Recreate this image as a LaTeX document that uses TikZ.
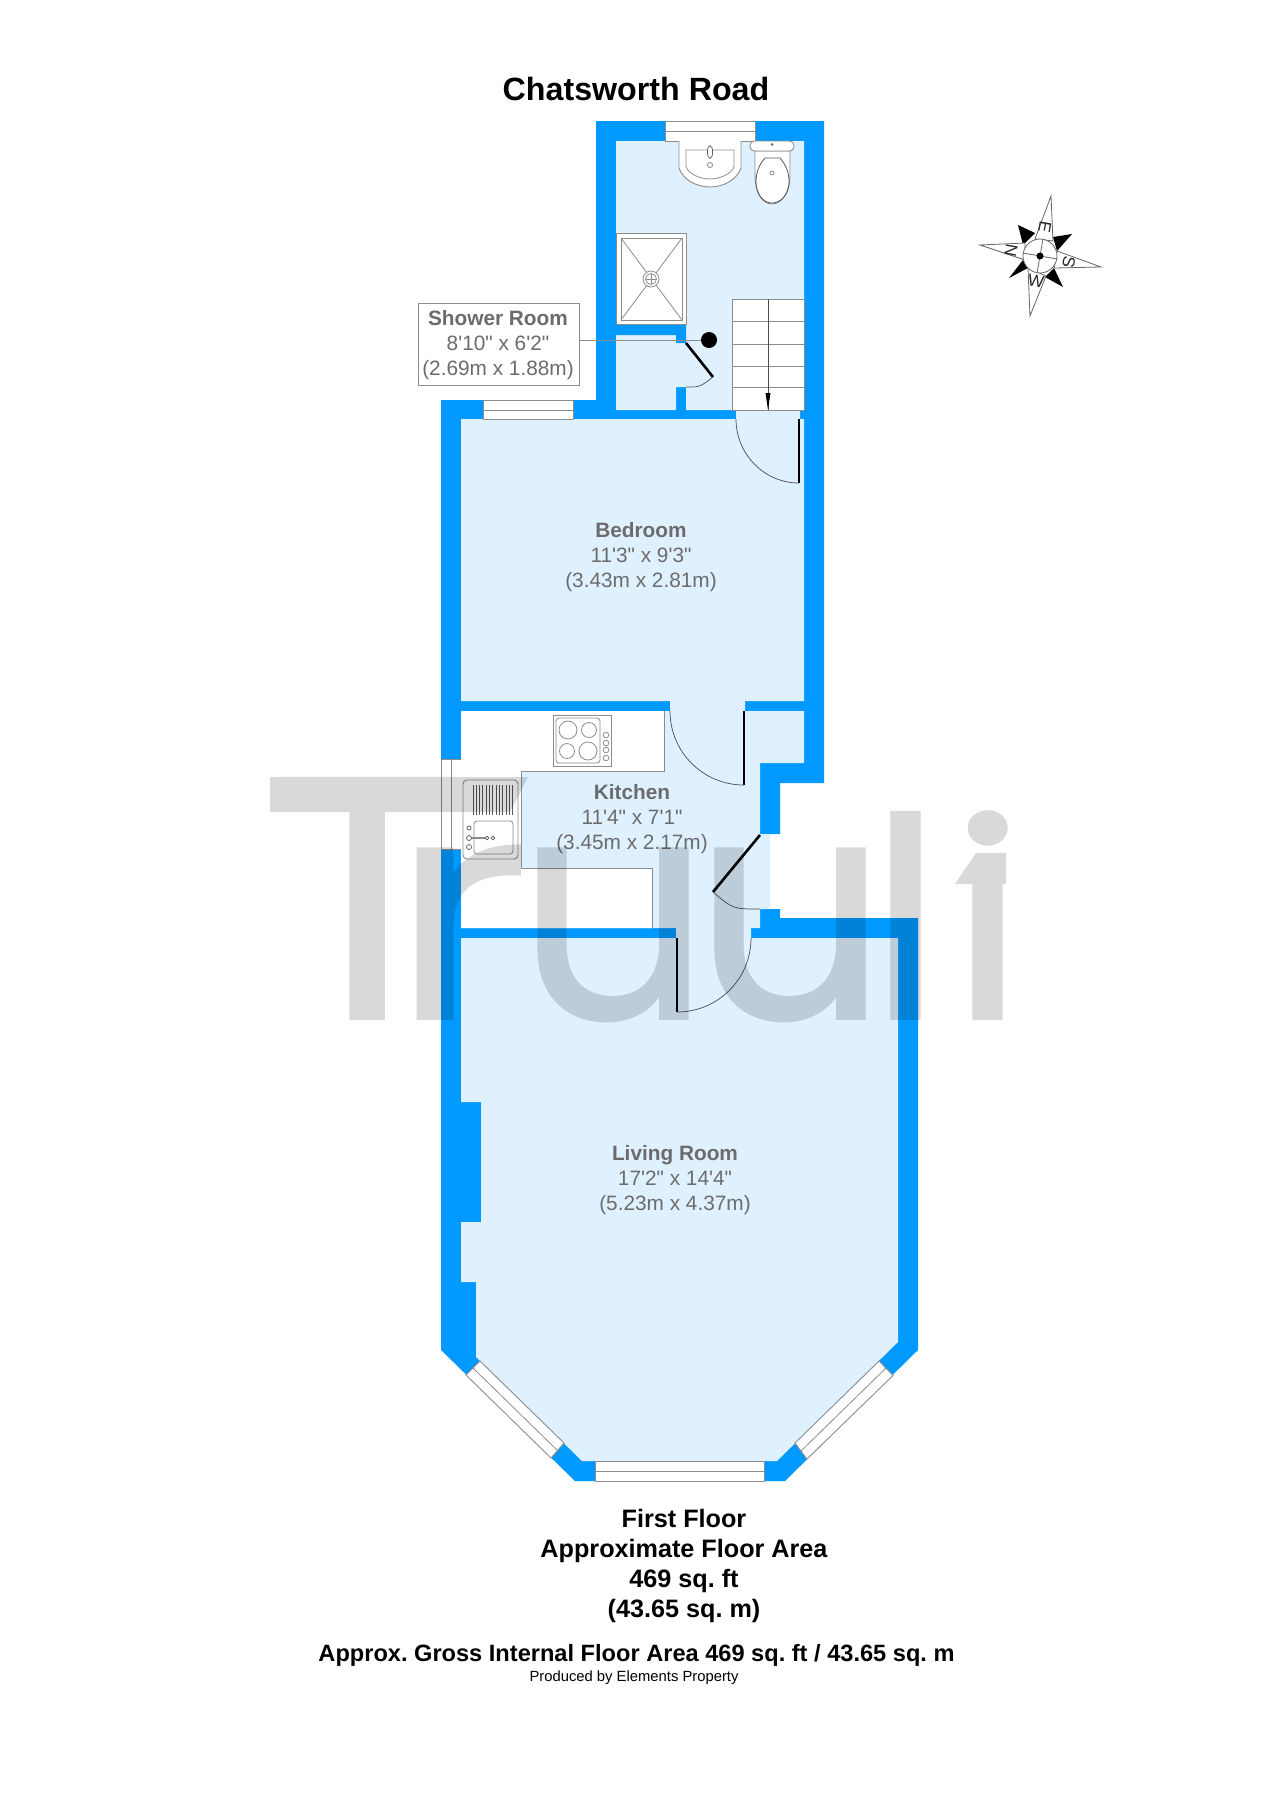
\documentclass[tikz,border=0pt]{standalone}
\usepackage{fontspec}
\usepackage{graphicx}
\setmainfont{Liberation Sans}[Ligatures=TeXOff]
\newfontfamily\wmfont{Poppins}[FakeBold=.6]
\AtBeginDocument{\frenchspacing}
\definecolor{wallblue}{HTML}{0099FF}
\definecolor{roomblue}{HTML}{DFF0FF}
\definecolor{linegrey}{HTML}{8C8C8C}
\definecolor{labelgrey}{HTML}{6C6C6C}
\tikzset{
  wall/.style={fill=wallblue,draw=none},
  room/.style={fill=roomblue,draw=none},
  fixture/.style={fill=white,draw=linegrey,line width=.45pt},
  thin line/.style={draw=linegrey,line width=.4pt},
  fineblack/.style={draw=black!65,line width=.35pt},
  windowpane/.style={fill=white,draw=linegrey,line width=.45pt},
  leaf/.style={draw=black,line width=1.3pt},
  swing/.style={draw=black!70,line width=.35pt},
  roomlabel/.style={align=center,text=labelgrey,inner sep=0pt,font=\fontsize{10.4}{12.6}\selectfont},
  heading/.style={align=center,text=black,inner sep=0pt,font=\bfseries\fontsize{12.6}{15.1}\selectfont},
  compassline/.style={draw=black!60,line width=.4pt,fill=white},
  compassletter/.style={inner sep=0pt,font=\fontsize{8.5}{10}\selectfont,text=black!85},
}
\begin{document}
\begin{tikzpicture}[x=.5pt,y=-.5pt]
\useasboundingbox (0,0) rectangle (1272,1800);
\fill[white] (0,0) rectangle (1272,1800);
% walls (outer shell)
\path[wall] (596,121)--(824,121)--(824,783)--(780,783)--(780,834)--(760,834)--(760,909)--(780,909)--(780,918)--(918,918)--(918,1350)--(785,1481)--(575,1481)--(441,1350)--(441,400)--(596,400)--cycle;
% rooms
\path[room] (616,141)--(804,141)--(804,410)--(686,410)--(686,387)--(676,387)--(676,410)--(616,410)--cycle;
\path[room] (461,419)--(736,419)--(736,410)--(800,410)--(800,419)--(804,419)--(804,701)--(745,701)--(745,711)--(804,711)--(804,763)--(760,763)--(760,834)--(770,834)--(770,909)--(760,909)--(760,928)--(751,928)--(751,938)--(898,938)--(898,1342)--(777,1461)--(582,1461)--(476,1357)--(476,1282)--(461,1282)--(461,1222)--(481,1222)--(481,1102)--(461,1102)--(461,938)--(676,938)--(676,928)--(461,928)--(461,711)--(670,711)--(670,701)--(461,701)--cycle;
\path[wall] (616,324)--(686,324)--(686,343)--(676,343)--(676,335)--(616,335)--cycle;
% windows
\path[windowpane] (665,121) rectangle (755,141);
\draw[thin line] (665,131)--(755,131);
\path[windowpane] (483,400) rectangle (573,419);
\draw[thin line] (483,410)--(573,410);
\path[windowpane] (441,759) rectangle (461,849);
\draw[thin line] (451,759)--(451,849);
\path[windowpane] (595,1461) rectangle (764,1481);
\draw[thin line] (595,1471)--(764,1471);
\path[windowpane] (480,1361)--(564,1443)--(551,1458)--(466,1375)--cycle;
\draw[thin line] (473,1368)--(557.5,1450.5);
\path[windowpane] (879,1361)--(795,1443)--(807,1459)--(893,1375.5)--cycle;
\draw[thin line] (886,1368)--(801,1451);
% kitchen units
\path[fill=white] (461,711)--(664,711)--(664,771)--(521,771)--(521,868)--(652,868)--(652,928)--(461,928)--cycle;
\draw[thin line] (664,711)--(664,771)--(521,771)--(521,868)--(652,868)--(652,928);
% hob
\path[fixture] (553,715) rectangle (611,766);
\draw[thin line,rounded corners=1.5pt] (556,718) rectangle (600,763);
\foreach \cx/\cy/\r in {568/730/9,589/730/7.5,567/751/7.5,588/751/9,606/735/2.8,606/743/2.8,606/750/2.8,606/758/2.8}
  \draw[thin line] (\cx,\cy) circle[radius=\r*.5pt];
% sink
\path[fixture,rounded corners=2pt] (463,780) rectangle (518,859);
\foreach \lx in {473,476.3,...,513.5}
  \draw[draw=black!65,line width=.5pt] (\lx,785)--(\lx,815);
\draw[thin line,rounded corners=1.5pt] (474,821) rectangle (513,854);
\draw[draw=linegrey,line width=1.2pt] (469,838)--(486,838);
\foreach \cx/\cy/\r in {469/838/2.5,487/838/1.8,493/838/1.8,469/828/2,469/847/2.5}
  \draw[fineblack,fill=white] (\cx,\cy) circle[radius=\r*.5pt];
% shower
\path[fixture] (616,233) rectangle (686,324);
\draw[thin line] (621,238) rectangle (682,320);
\draw[thin line] (621,238)--(682,320) (682,238)--(621,320);
\draw[thin line,fill=white] (651,279) circle[radius=8*.5pt];
\draw[thin line] (651,279) circle[radius=5.5*.5pt];
\draw[thin line] (646,279)--(656,279) (651,274)--(651,284);
% basin
\path[fixture] (679,141)--(679,168).. controls (683,180) and (697,187) .. (710,187) .. controls (723,187) and (737,180) .. (741,168)--(741,141);
\draw[thin line] (686,150)--(734,150)--(734,167) .. controls (731,174) and (720,179) .. (710,179) .. controls (700,179) and (689,174) .. (686,167)--cycle;
\draw[fineblack,fill=white] (710,152) ellipse[x radius=2.6,y radius=6.5];
\draw[thin line] (710,165) circle[radius=2.6*.5pt];
% toilet
\path[fixture] (755,151)--(755,175) .. controls (755,192) and (762,204) .. (772,204) .. controls (782,204) and (790,192) .. (790,175)--(790,151)--cycle;
\draw[draw=black!65,line width=.4pt] (765,158)--(780,158) .. controls (786,165) and (789,172) .. (789,182) .. controls (789,194) and (781,203) .. (772,203) .. controls (763,203) and (756,194) .. (756,182) .. controls (756,172) and (759,165) .. (765,158)--cycle;
\path[fixture,rounded corners=2.2pt] (750,141) rectangle (794,151);
\draw[thin line] (772,173) circle[radius=2*.5pt];
\fill[black!55] (772,144.5) circle[radius=1.5*.5pt];
% stairs
\path[fixture] (732,299) rectangle (804,410);
\foreach \sy in {321,344,366,387}
  \draw[thin line] (732,\sy)--(804,\sy);
\draw[draw=black!70,line width=.4pt] (768,299)--(768,410);
\fill[black] (768,410)--(765.5,393)--(770.5,393)--cycle;
% doors
\draw[leaf] (799,419)--(799,483);
\draw[swing] (736,419) .. controls (736,454) and (764,483) .. (799,483);
\draw[leaf] (686,343)--(713,377);
\draw[swing] (713,377) .. controls (700,387) .. (686,387);
\draw[leaf] (744,711)--(744,785);
\draw[swing] (670,711) .. controls (670,752) and (703,785) .. (744,785);
\draw[leaf] (760,835)--(713,892);
\draw[swing] (713,892) .. controls (733,909) .. (760,909);
\draw[leaf] (677,938)--(677,1012);
\draw[swing] (677,1012) .. controls (718,1012) and (751,979) .. (751,938);
% shower room label with leader
\node[draw=linegrey,line width=.45pt,fill=white,minimum width=80.5pt,minimum height=41pt,inner sep=0pt] (showerbox) at (498.5,344.5) {};
\node[circle,fill=black,minimum size=8pt,inner sep=0pt] (showerdot) at (709,340) {};
\draw[thin line] (showerbox.east |- showerdot) -- (showerdot);
\node[roomlabel] (showerlabel) at (498,345) {\textbf{Shower Room}\\8'10" x 6'2"\\(2.69m x 1.88m)};
\node[roomlabel] (bedroomlabel) at (641,557) {\textbf{Bedroom}\\11'3" x 9'3"\\(3.43m x 2.81m)};
\node[roomlabel] (kitchenlabel) at (632,819) {\textbf{Kitchen}\\11'4" x 7'1"\\(3.45m x 2.17m)};
\node[roomlabel] (livinglabel) at (675,1180) {\textbf{Living Room}\\17'2" x 14'4"\\(5.23m x 4.37m)};
% title and areas
\node[inner sep=0pt,font=\bfseries\fontsize{16.1}{19}\selectfont] (title) at (636,89) {Chatsworth Road};
\node[heading] (floorinfo) at (684,1566) {First Floor\\Approximate Floor Area\\469 sq. ft\\(43.65 sq. m)};
\node[inner sep=0pt,font=\bfseries\fontsize{11.8}{14}\selectfont] (gross) at (636.5,1655) {Approx. Gross Internal Floor Area 469 sq. ft / 43.65 sq. m};
\node[inner sep=0pt,font=\fontsize{7.4}{9}\selectfont] (producer) at (634,1678) {Produced by Elements Property};
% compass
\fill[black] (1018,225)--(1035,233)--(1023,245)--cycle;
\fill[black] (1072,234)--(1053,237)--(1057,251)--cycle;
\fill[black] (1063,287)--(1045,277)--(1054,268)--cycle;
\fill[black] (1009,278)--(1028,268)--(1023,260)--cycle;
\path[compassline] (1051,196)--(1053,241)--(1035,239)--cycle;
\path[compassline] (980,245)--(1025,243)--(1025,260)--cycle;
\path[compassline] (1101,267)--(1057,251)--(1054,268)--cycle;
\path[compassline] (1030,316)--(1028,268)--(1046,276)--cycle;
\draw[compassline] (1040,256) circle[radius=17*.5pt];
\draw[draw=black!60,line width=.4pt] (1043,239)--(1037,273) (1023,253)--(1057,259);
\fill[black] (1040,256) circle[radius=3.5*.5pt];
\node[compassletter,rotate=-100] (cE) at (1045,227) {E};
\node[compassletter,rotate=-100] (cN) at (1011,251) {N};
\node[compassletter,rotate=-100] (cS) at (1069,262) {S};
\node[compassletter,rotate=-10] (cW) at (1036,281) {W};
% watermark
\begin{scope}[transparency group,opacity=.15]
\node[anchor=base west,inner sep=0pt,text=black,font=\wmfont\fontsize{173}{173}\selectfont] (wm) at (267.5,1019) {\makebox[60.25pt][l]{\scalebox{1.06}[1]{T}}\makebox[64pt][l]{\scalebox{1.1}[.9]{r}}\makebox[88.5pt][l]{\scalebox{.88}[.9]{u}}\makebox[87pt][l]{\scalebox{.88}[.9]{u}}\makebox[41pt][l]{\scalebox{.9}[.81]{l}}\scalebox{.9}[.79]{i}};
\fill[black] (270,777)--(528,777)--(510,812)--(270,812)--cycle;
\fill[black] (955,884)--(976,853)--(1006,853)--(1006,884)--cycle;
\end{scope}
\end{tikzpicture}
\end{document}
